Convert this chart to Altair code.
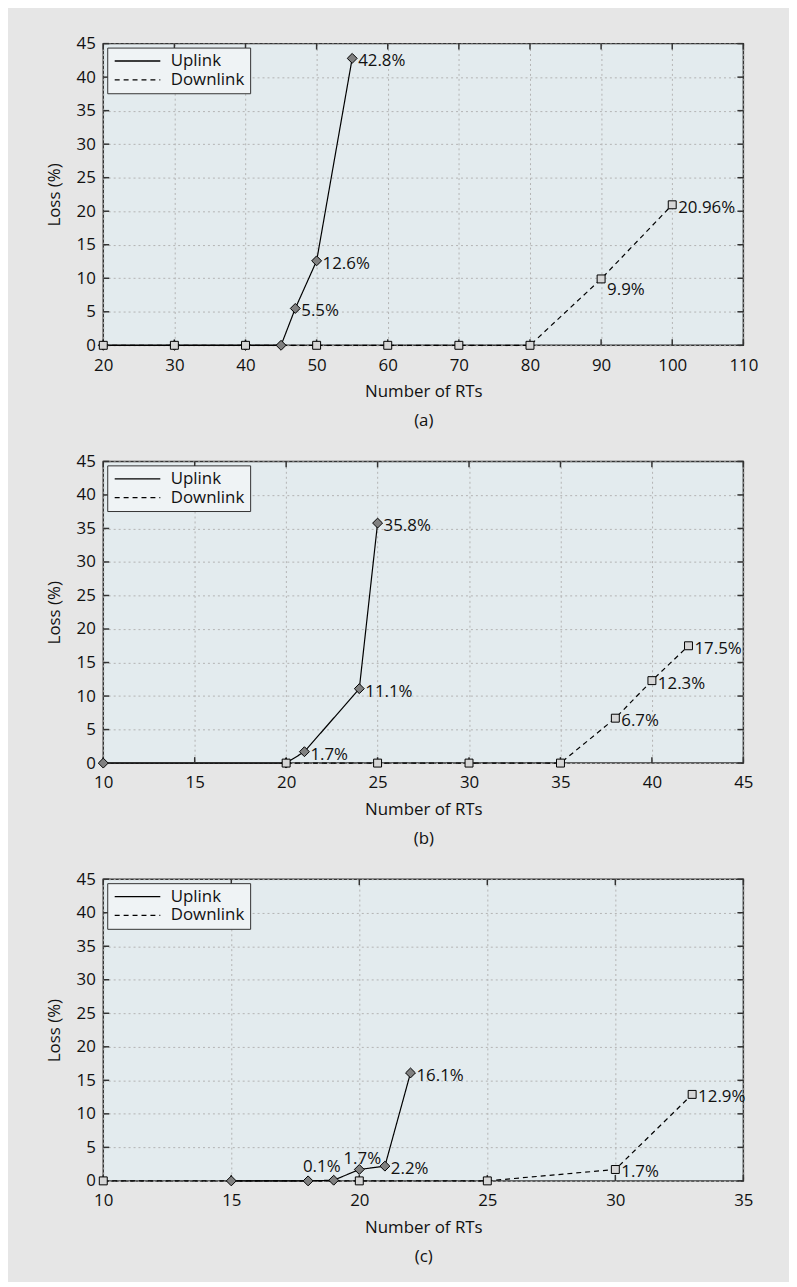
import altair as alt
import pandas as pd

FONT = "Open Sans"

# ---------------- data ----------------
Y_TICKS = [0, 5, 10, 15, 20, 25, 30, 35, 40, 45]

# panel (a)
a_up_x = [20, 30, 40, 45, 47, 50, 55]
a_up_y = [0, 0, 0, 0, 5.5, 12.6, 42.8]
a_up_lbl = ["", "", "", "", "5.5%", "12.6%", "42.8%"]
a_dn_x = [20, 30, 40, 50, 60, 70, 80, 90, 100]
a_dn_y = [0, 0, 0, 0, 0, 0, 0, 9.9, 20.96]
a_dn_lbl = ["", "", "", "", "", "", "", "9.9%", "20.96%"]
a_x_ticks = [20, 30, 40, 50, 60, 70, 80, 90, 100, 110]

# panel (b)
b_up_x = [10, 20, 21, 24, 25]
b_up_y = [0, 0, 1.7, 11.1, 35.8]
b_up_lbl = ["", "", "1.7%", "11.1%", "35.8%"]
b_dn_x = [20, 25, 30, 35, 38, 40, 42]
b_dn_y = [0, 0, 0, 0, 6.7, 12.3, 17.5]
b_dn_lbl = ["", "", "", "", "6.7%", "12.3%", "17.5%"]
b_x_ticks = [10, 15, 20, 25, 30, 35, 40, 45]

# panel (c)
c_up_x = [15, 18, 19, 20, 21, 22]
c_up_y = [0, 0, 0.1, 1.7, 2.2, 16.1]
c_up_lbl = ["", "", "0.1%", "1.7%", "2.2%", "16.1%"]
c_dn_x = [10, 20, 25, 30, 33]
c_dn_y = [0, 0, 0, 1.7, 12.9]
c_dn_lbl = ["", "", "", "1.7%", "12.9%"]
c_x_ticks = [10, 15, 20, 25, 30, 35]

# label placement (style, kept apart from data)
PLACE = {
    ("a", "Downlink", 90): "below",
    ("c", "Uplink", 19): "aboveleft",
    ("c", "Uplink", 20): "above",
}

W, H = 645, 304
TICK_LEN = 6
INK = "#111111"
FRAME = "#333333"


def panel(key, up, dn, x_ticks, caption):
    rows = []
    for link, (xs_, ys_, ls_) in (("Uplink", up), ("Downlink", dn)):
        for x, y, l in zip(xs_, ys_, ls_):
            rows.append({"x": x, "y": y, "link": link, "label": l,
                         "place": PLACE.get((key, link, x), "right")})
    df = pd.DataFrame(rows)
    xt = pd.DataFrame({"v": x_ticks})
    yt = pd.DataFrame({"v": Y_TICKS})

    xs = alt.Scale(domain=[x_ticks[0], x_ticks[-1]], nice=False, zero=False)
    ys = alt.Scale(domain=[0, 45], nice=False, zero=False)
    common = dict(grid=True, gridDash=[2, 3], gridColor="#b3b3b3", gridWidth=1,
                  domain=False, ticks=False, labelFontSize=17, titleFontSize=17,
                  labelFlush=False, labelOverlap=False, labelBound=False,
                  labelColor=INK, titleColor=INK, titleFontWeight="normal",
                  labelFont=FONT, titleFont=FONT)
    xax = alt.Axis(values=x_ticks, title=["Number of RTs", caption],
                   labelPadding=12, titlePadding=11, titleLineHeight=29, **common)
    yax = alt.Axis(values=Y_TICKS, title="Loss (%)", labelPadding=8,
                   titlePadding=13, **common)

    X = alt.X("x:Q", scale=xs, axis=xax)
    Y = alt.Y("y:Q", scale=ys, axis=yax)
    XV = alt.X("v:Q", scale=xs, axis=xax)
    YV = alt.Y("v:Q", scale=ys, axis=yax)

    rule_kw = dict(color=FRAME, strokeWidth=1.5)
    t_left = alt.Chart(yt).mark_rule(**rule_kw).encode(y=YV, x=alt.value(0), x2=alt.value(TICK_LEN))
    t_right = alt.Chart(yt).mark_rule(**rule_kw).encode(y=YV, x=alt.value(W), x2=alt.value(W - TICK_LEN))
    t_top = alt.Chart(xt).mark_rule(**rule_kw).encode(x=XV, y=alt.value(0), y2=alt.value(TICK_LEN))
    t_bot = alt.Chart(xt).mark_rule(**rule_kw).encode(x=XV, y=alt.value(H), y2=alt.value(H - TICK_LEN))

    legend = alt.Legend(
        title=None, orient="top-left", offset=4,
        fillColor="#eff3f5", strokeColor=FRAME, padding=5,
        labelFontSize=17, labelFont=FONT, labelColor=INK,
        symbolType="M-4,0H4", symbolSize=132, symbolStrokeWidth=1.3,
        symbolStrokeColor="black", symbolOffset=17, labelOffset=25,
        rowPadding=1,
    )
    base = alt.Chart(df)
    line = base.mark_line(color="black", strokeWidth=1.2).encode(
        x=X, y=Y,
        strokeDash=alt.StrokeDash(
            "link:N",
            scale=alt.Scale(domain=["Uplink", "Downlink"], range=[[1, 0], [5, 4]]),
            legend=legend),
    )
    up_pts = base.mark_point(shape="diamond", filled=True, fill="#808080",
                             stroke="black", strokeWidth=1, size=100, opacity=1).encode(
        x=X, y=Y).transform_filter("datum.link == 'Uplink'")
    dn_pts = base.mark_point(shape="square", filled=True, fill="#d6d6d6",
                             stroke="black", strokeWidth=1, size=64, opacity=1).encode(
        x=X, y=Y).transform_filter("datum.link == 'Downlink'")

    tkw = dict(fontSize=17, font=FONT, color=INK, baseline="middle")
    txt_right = base.mark_text(align="left", dx=6, dy=3, **tkw).encode(
        x=X, y=Y, text="label:N").transform_filter("datum.label != '' && datum.place == 'right'")
    txt_below = base.mark_text(align="left", dx=6, dy=11, **tkw).encode(
        x=X, y=Y, text="label:N").transform_filter("datum.label != '' && datum.place == 'below'")
    txt_above = base.mark_text(align="center", dx=3, dy=-11, **tkw).encode(
        x=X, y=Y, text="label:N").transform_filter("datum.label != '' && datum.place == 'above'")
    txt_al = base.mark_text(align="center", dx=-12, dy=-13, **tkw).encode(
        x=X, y=Y, text="label:N").transform_filter("datum.label != '' && datum.place == 'aboveleft'")

    return alt.layer(line, t_left, t_right, t_top, t_bot, up_pts, dn_pts,
                     txt_right, txt_below, txt_above, txt_al).properties(width=W, height=H)


pa = panel("a", (a_up_x, a_up_y, a_up_lbl), (a_dn_x, a_dn_y, a_dn_lbl), a_x_ticks, "(a)")
pb = panel("b", (b_up_x, b_up_y, b_up_lbl), (b_dn_x, b_dn_y, b_dn_lbl), b_x_ticks, "(b)")
pc = panel("c", (c_up_x, c_up_y, c_up_lbl), (c_dn_x, c_dn_y, c_dn_lbl), c_x_ticks, "(c)")

chart = alt.vconcat(pa, pb, pc, spacing=22).resolve_scale(
    strokeDash="independent").resolve_legend(strokeDash="independent").properties(
    padding={"left": 36, "top": 21, "right": 30, "bottom": 12}
).configure(background="#e6e6e6", font=FONT).configure_view(
    fill="#e3ebee", stroke=FRAME, strokeWidth=1.5)

chart.save("out.html", embed_options={"renderer": "svg", "actions": False})
